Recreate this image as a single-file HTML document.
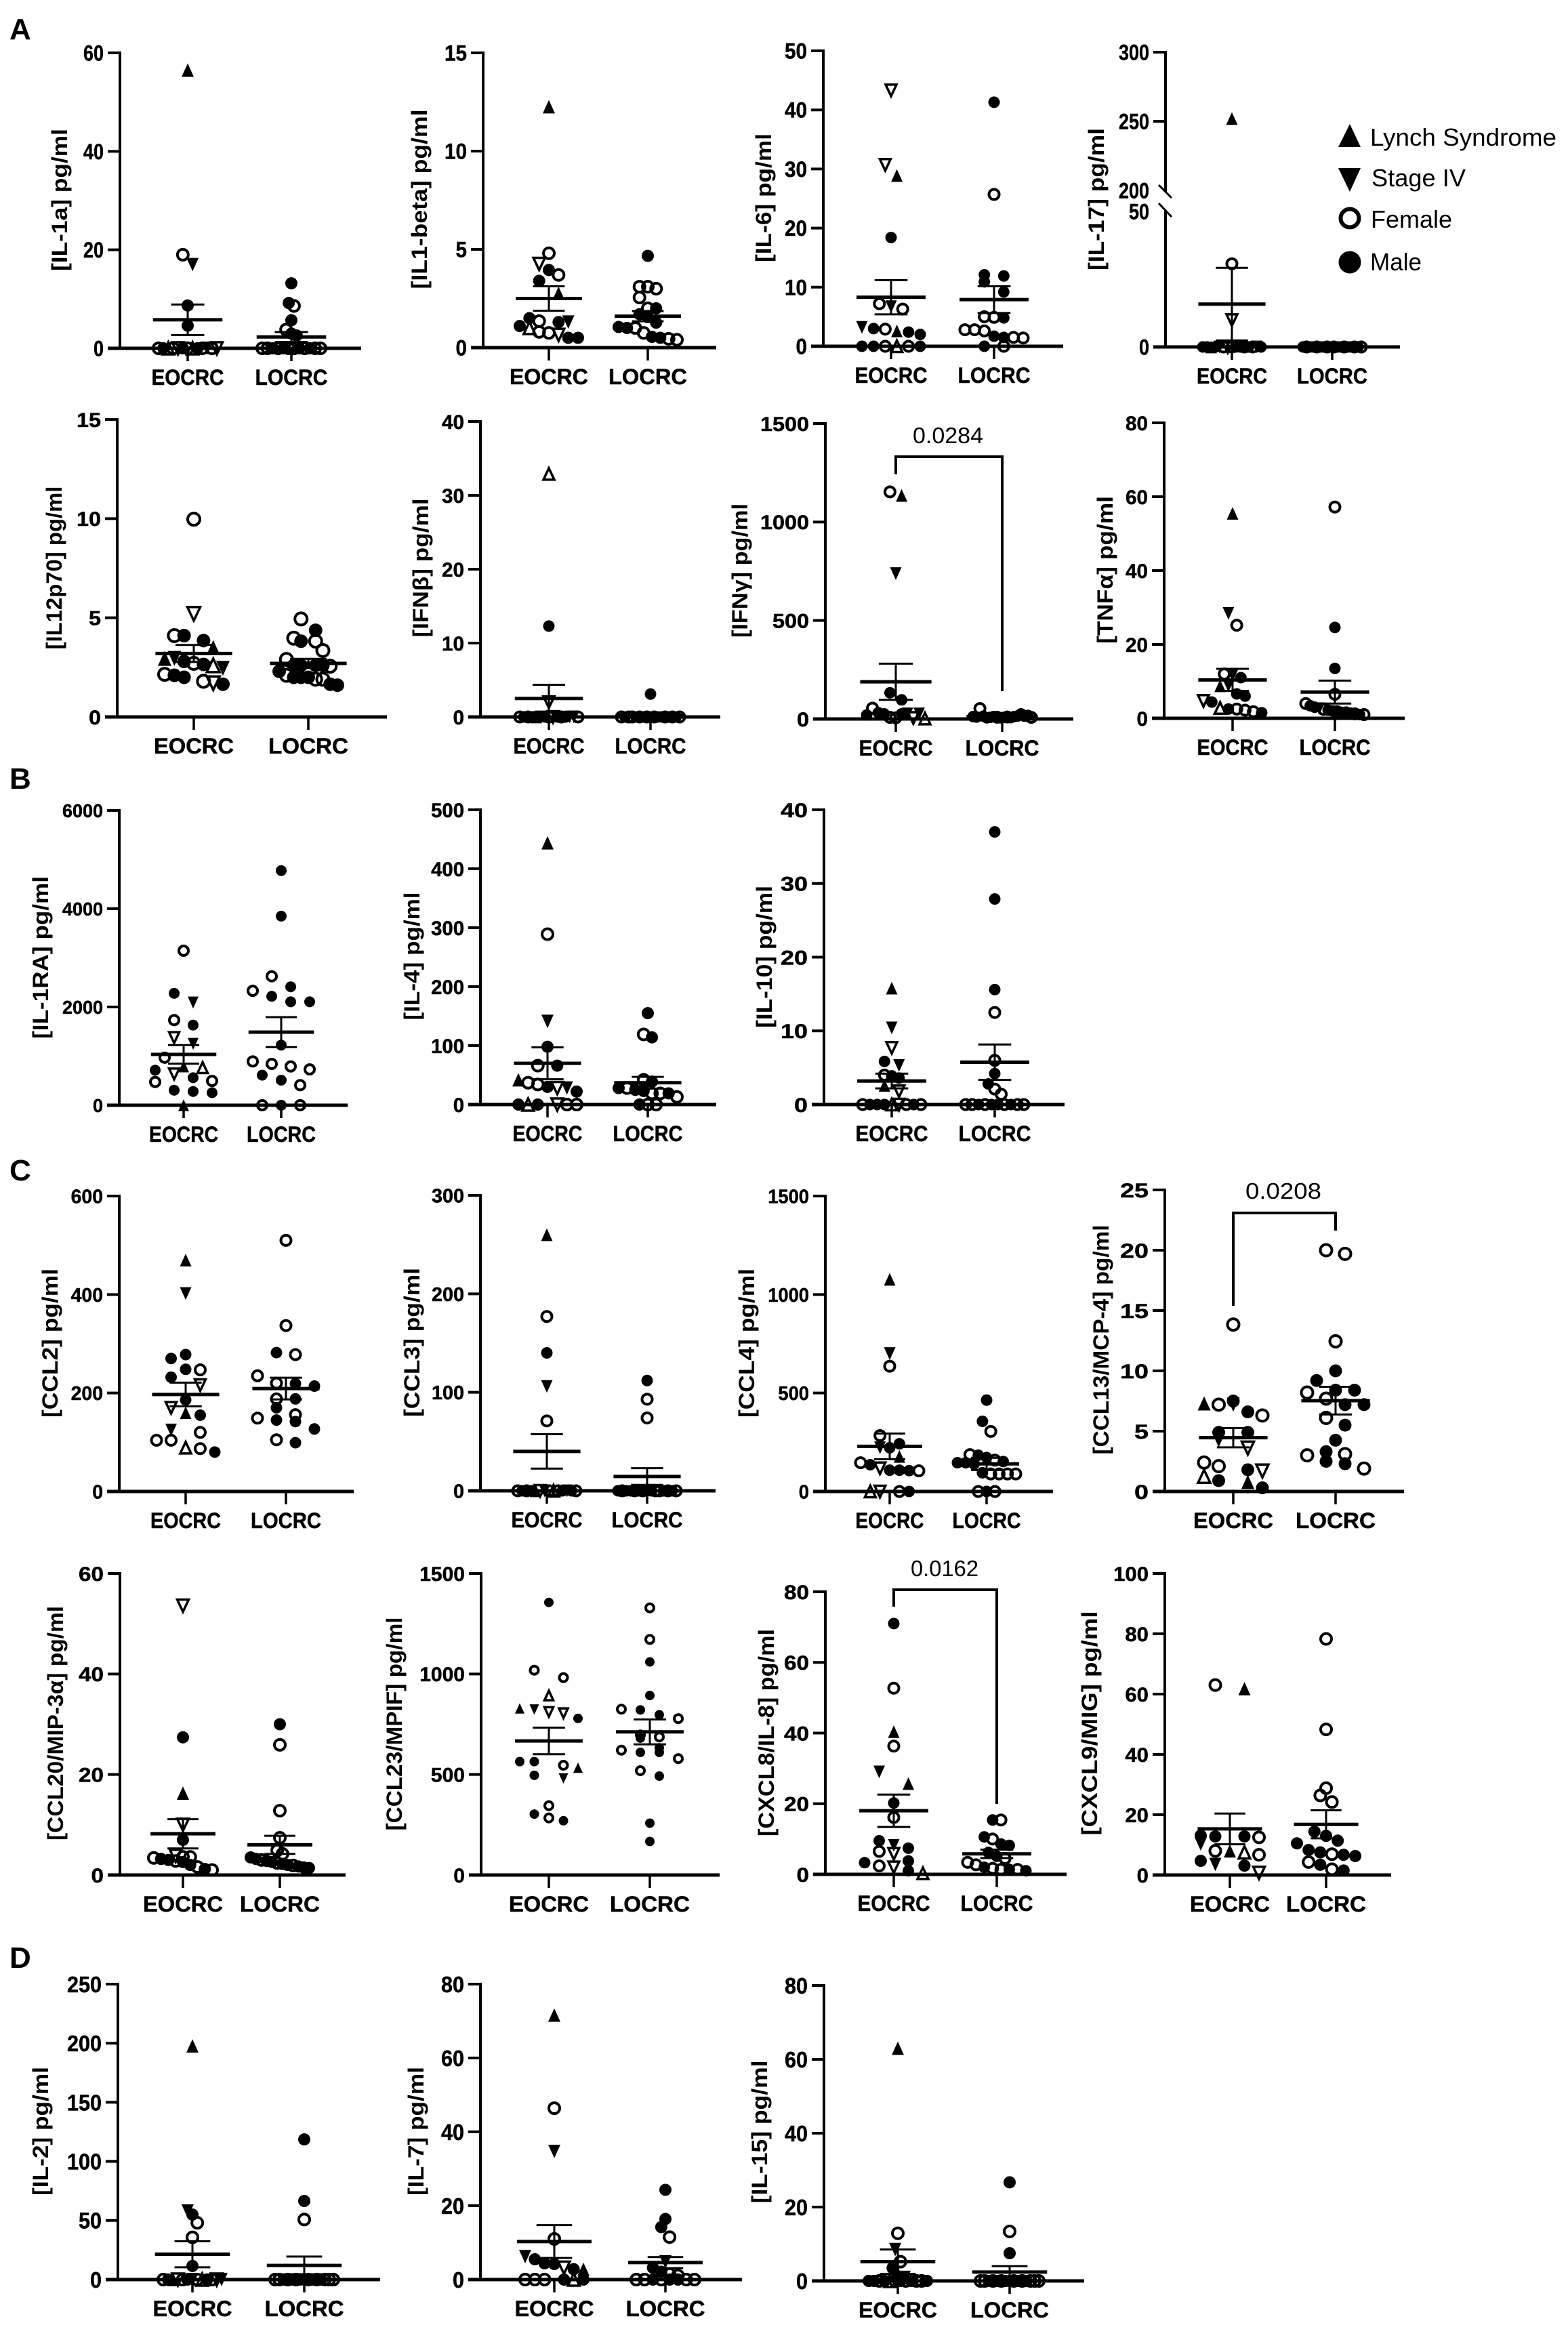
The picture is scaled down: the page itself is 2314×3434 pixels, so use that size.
<!DOCTYPE html>
<html lang="en">
<head>
<meta charset="utf-8">
<title>Cytokine concentrations in EOCRC and LOCRC</title>
<style>
  html, body { margin: 0; padding: 0; background: #fff; }
  svg { display: block; font-family: "Liberation Sans", sans-serif; }
  text { fill: #000; }
</style>
</head>
<body>
<svg id="figure" width="2314" height="3434" viewBox="0 0 2314 3434" xmlns="http://www.w3.org/2000/svg">
  <rect x="0" y="0" width="2314" height="3434" fill="#fff"/>
  <text x="14" y="58" font-size="44" font-weight="700">A</text>
  <text x="14" y="1164" font-size="44" font-weight="700">B</text>
  <text x="14" y="1742" font-size="44" font-weight="700">C</text>
  <text x="14" y="2904" font-size="44" font-weight="700">D</text>
  <g>
    <g>
      <polygon points="1992,183 2008,217 1975,217" fill="#000"/>
      <text x="2022" y="215" font-size="36" textLength="275" lengthAdjust="spacingAndGlyphs">Lynch Syndrome</text>
    </g>
    <g>
      <polygon points="1975,248 2008,248 1992,283" fill="#000"/>
      <text x="2024" y="275" font-size="36" textLength="139" lengthAdjust="spacingAndGlyphs">Stage IV</text>
    </g>
    <g>
      <circle cx="1992" cy="322" r="13.5" fill="none" stroke="#000" stroke-width="6"/>
      <text x="2023" y="336" font-size="36" textLength="120" lengthAdjust="spacingAndGlyphs">Female</text>
    </g>
    <g>
      <circle cx="1992" cy="387" r="16.5" fill="#000"/>
      <text x="2022" y="399" font-size="36" textLength="76" lengthAdjust="spacingAndGlyphs">Male</text>
    </g>
  </g>
</svg>
<script>
const categories = ['EOCRC', 'LOCRC'];

/* Kinds: L lynch, l lynch female, S stage IV, s stage IV female, F female, M male */
const il1aTicks = [0, 20, 40, 60];
const il1aEoValues = [56.5, 19, 17, 8.7, 4.6, 0, 0, 0, 0, 0, 0, 0, 0, 0, 0, 0, 0, 0];
const il1aEoKinds = 'LFSMMFMlFsMFlMFSFs';
const il1aLoValues = [13.2, 9.2, 8.6, 5.7, 3.8, 3, 2.6, 0, 0, 0, 0, 0, 0, 0, 0, 0, 0, 0, 0];
const il1aLoKinds = 'MMFMFMMFFMFMFFMFMFF';
const il1aMeans = [5.8, 2.3];
const il1aSems = [3.1, 1];

const il1bTicks = [0, 5, 10, 15];
const il1bEoValues = [12.26, 4.8, 4.26, 3.95, 3.7, 3.4, 2.77, 1.5, 1.35, 1.3, 1.3, 1.1, 1, 0.8, 0.75, 0.65, 0.5, 0.5];
const il1bEoKinds = 'LFsMFMLMFMSMlFFsMM';
const il1bLoValues = [4.67, 3.1, 3.1, 3, 2.55, 2, 2, 1.7, 1.55, 1.27, 1.05, 1, 1, 0.75, 0.55, 0.5, 0.45, 0.4];
const il1bLoKinds = 'MFFFFFMMMMMMFFMMFF';
const il1bMeans = [2.5, 1.6];
const il1bSems = [0.62, 0.26];

const il6Ticks = [0, 10, 20, 30, 40, 50];
const il6EoValues = [43.3, 30.7, 28.9, 18.4, 7.2, 6.7, 6.3, 3.2, 3, 2.9, 2.6, 2.4, 2, 0, 0, 0, 0, 0, 0];
const il6EoKinds = 'ssLMFSFSMFLMMMMFlFM';
const il6LoValues = [41.3, 25.7, 12.1, 11.9, 10.9, 9.2, 5, 4.9, 4.8, 2.8, 2.8, 2.6, 1.7, 1.5, 1.5, 1.4, 0, 0];
const il6LoKinds = 'MFMMMMFFMFFFMMFFMF';
const il6Means = [8.3, 7.9];
const il6Sems = [2.9, 2.27];

const il17Ticks = [0, 50, 200, 250, 300];
const il17EoValues = [252, 30.7, 9.9, 0, 0, 0, 0, 0, 0, 0, 0, 0, 0, 0, 0, 0, 0, 0];
const il17EoKinds = 'LFsMMLMSFsFMMFMFSM';
const il17LoValues = [0, 0, 0, 0, 0, 0, 0, 0, 0, 0, 0, 0, 0, 0, 0, 0, 0, 0];
const il17LoKinds = 'MFMMFMMFMFMMFMMFMF';
const il17Means = [15.8, 0.2];
const il17Sems = [13.4, 0.1];

const il12Ticks = [0, 5, 10, 15];
const il12EoValues = [9.97, 5.2, 4.1, 4.1, 3.85, 3.5, 2.95, 2.95, 2.8, 2.7, 2.65, 2.6, 2.45, 2.15, 2.1, 2, 1.8, 1.7, 1.65];
const il12EoKinds = 'FsFMMLLSMFMlSFMMFsM';
const il12LoValues = [4.94, 4.37, 3.97, 3.82, 3.82, 3.35, 2.9, 2.6, 2.6, 2.6, 2.6, 2.56, 2.3, 2.1, 2, 2, 2, 1.9, 1.9, 1.65, 1.6];
const il12LoKinds = 'FMFMFFFMMMMFMFMMMFFMM';
const il12Means = [3.2, 2.7];
const il12Sems = [0.43, 0.23];

const ifnbTicks = [0, 10, 20, 30, 40];
const ifnbEoValues = [32.9, 12.3, 2, 0, 0, 0, 0, 0, 0, 0, 0, 0, 0, 0, 0, 0, 0, 0];
const ifnbEoKinds = 'lMsFMFMLSMFsMFMSSF';
const ifnbLoValues = [3.1, 0, 0, 0, 0, 0, 0, 0, 0, 0, 0, 0, 0, 0, 0, 0, 0, 0];
const ifnbLoKinds = 'MFMFFMFMFMFMMFMFMF';
const ifnbMeans = [2.5, 0.2];
const ifnbSems = [1.85, 0.15];

const ifngTicks = [0, 500, 1000, 1500];
const ifngEoValues = [1153, 1135, 738, 133, 97, 20, 55, 32, 26, 8, 6, 26, 26, 5, 26, 2];
const ifngEoKinds = 'FLSMMMFMMFFMSsSl';
const ifngLoValues = [12, 10, 53, 14, 6, 8, 12, 9, 6, 8, 10, 7, 12, 15, 26, 14, 18, 8];
const ifngLoKinds = 'MMFMMMMFMMFMMMMMMF';
const ifngMeans = [189, 12];
const ifngSems = [92, 3];

const tnfaTicks = [0, 20, 40, 60, 80];
const tnfaEoValues = [55.5, 28.4, 25.2, 12, 11.6, 11, 8.8, 8.8, 6.6, 6, 4.7, 4.4, 2.8, 2.5, 2.5, 2.2, 1.8, 1.5];
const tnfaEoKinds = 'LSFFSMLSMMsMlMFFFM';
const tnfaLoValues = [57.2, 24.6, 13.5, 6.5, 4, 3.4, 3, 2.6, 2.4, 2.2, 2, 1.8, 1.6, 1.5, 1.4, 1.2, 1, 1];
const tnfaLoKinds = 'FMMFFMMSFMMFMFMFMF';
const tnfaMeans = [10.4, 7.1];
const tnfaSems = [3, 3.1];

const il1raTicks = [0, 2000, 4000, 6000];
const il1raEoValues = [3145, 2278, 2090, 1733, 1631, 1376, 1250, 968, 790, 765, 713, 637, 560, 495, 474, 306, 280, 255, 0];
const il1raEoKinds = 'FMSFMsSFLlMsMFFMMML';
const il1raLoValues = [4776, 3848, 2625, 2410, 2330, 2217, 2105, 2105, 1223, 892, 841, 790, 729, 612, 510, 408, 0, 0, 0];
const il1raLoKinds = 'MMFMFMMMMFFFFMMFFMF';
const il1raMeans = [1035, 1488];
const il1raSems = [190, 305];

const il4Ticks = [0, 100, 200, 300, 400, 500];
const il4EoValues = [444, 289, 141, 98, 66, 66, 42, 37, 34, 30, 28, 28, 22, 0, 0, 0, 0, 0, 0];
const il4EoKinds = 'LFSMFMLFFMsSMMlMsFF';
const il4LoValues = [155, 119, 114, 42, 39, 28, 28, 25, 23, 19, 19, 19, 13, 0, 0, 0];
const il4LoKinds = 'MFMFMMFMMFFMFMFF';
const il4Means = [70, 37];
const il4Sems = [27, 10];

const il10Ticks = [0, 10, 20, 30, 40];
const il10EoValues = [15.8, 10.4, 7.7, 5.85, 5.3, 4, 3.9, 3.6, 2.6, 1.8, 0, 0, 0, 0, 0, 0, 0, 0, 0];
const il10EoKinds = 'LSsMSFMMLsFMMMlsFMF';
const il10LoValues = [37, 27.9, 15.6, 12.5, 6, 4.2, 2.8, 2.1, 1.4, 0, 0, 0, 0, 0, 0, 0, 0, 0, 0];
const il10LoKinds = 'MMMFFMMFFFFMFMMFMFF';
const il10Means = [3.2, 5.75];
const il10Sems = [1, 2.4];

const ccl2Ticks = [0, 200, 400, 600];
const ccl2EoValues = [470, 402, 278, 270, 248, 247, 232, 216, 186, 170, 160, 155, 125, 120, 104, 104, 89, 87, 80];
const ccl2EoKinds = 'LSMMMFMsMsLMSFFFlFM';
const ccl2LoValues = [510, 337, 282, 278, 235, 220, 219, 214, 188, 188, 170, 156, 149, 145, 142, 127, 105, 99];
const ccl2LoKinds = 'FFMFFFMMFMMFFMMMFM';
const ccl2Means = [197, 209];
const ccl2Sems = [24, 22];

const ccl3Ticks = [0, 100, 200, 300];
const ccl3EoValues = [260, 177, 140, 106, 71, 0, 0, 0, 0, 0, 0, 0, 0, 0, 0, 0, 0, 0, 0];
const ccl3EoKinds = 'LFMSFFMFMLsSFlFMSMF';
const ccl3LoValues = [112, 93, 74, 0, 0, 0, 0, 0, 0, 0, 0, 0, 0, 0, 0, 0, 0, 0];
const ccl3LoKinds = 'MFFMFMMFMFMMFFMFMF';
const ccl3Means = [40, 14.5];
const ccl3Sems = [17.5, 8.5];

const ccl4Ticks = [0, 500, 1000, 1500];
const ccl4EoValues = [1077, 700, 636, 284, 242, 222, 222, 178, 146, 136, 118, 108, 108, 106, 105, 0, 0, 0, 0];
const ccl4EoKinds = 'LSFFMSMLFMsMMMFlsFM';
const ccl4LoValues = [464, 356, 305, 187, 184, 172, 159, 152, 146, 146, 140, 95, 89, 89, 89, 89, 0, 0, 0];
const ccl4LoKinds = 'MMFFMMFMMMMMFFFFFMF';
const ccl4Means = [229, 140];
const ccl4Sems = [65, 31];

const ccl13Ticks = [0, 5, 10, 15, 20, 25];
const ccl13EoValues = [13.84, 7.5, 7.3, 7.2, 7.2, 6.6, 6.3, 4.9, 4.9, 4.25, 3.6, 2.4, 2.1, 1.8, 1.7, 1.25, 0.9, 0.8, 0.3];
const ccl13EoKinds = 'FMLFSMFMMSsFFMslMLM';
const ccl13LoValues = [20, 19.7, 12.45, 10, 9.2, 8.4, 8.4, 8.2, 7.7, 7.2, 7.2, 6.1, 5.5, 4.25, 3.3, 3.1, 3, 2.5, 2.3, 1.9];
const ccl13LoKinds = 'FFFMMMMFFMMFMMMFFMMF';
const ccl13Means = [4.46, 7.53];
const ccl13Sems = [0.8, 1.15];

const ccl20Ticks = [0, 20, 40, 60];
const ccl20EoValues = [53.6, 27.4, 16.3, 10, 7, 3.8, 3.6, 3.6, 3.4, 3.2, 3, 2.8, 2.6, 2, 1.6, 1.2, 1];
const ccl20EoKinds = 'sMLsMsFFFMMFMMFMF';
const ccl20LoValues = [30, 25.9, 12.8, 7.4, 4.9, 4.2, 3.5, 3.2, 3, 2.8, 2.6, 2.4, 2.2, 2, 1.9, 1.7, 1.5, 1.4];
const ccl20LoKinds = 'MFFFFFMMFMMFMMFMMM';
const ccl20Means = [8.2, 6];
const ccl20Sems = [2.9, 1.8];

const ccl23Ticks = [0, 500, 1000, 1500];
const ccl23EoValues = [1356, 1019, 982, 893, 829, 823, 811, 805, 779, 564, 564, 546, 534, 496, 480, 345, 303, 284, 270];
const ccl23EoKinds = 'MFFlLSssMMMFLMSFMFM';
const ccl23LoValues = [1329, 1172, 1060, 893, 825, 821, 797, 778, 697, 687, 681, 633, 621, 610, 610, 579, 519, 492, 258, 167];
const ccl23LoKinds = 'FFMMFMMFFFMMFMMFFMMM';
const ccl23Means = [667, 712];
const ccl23Sems = [66, 62];

const cxcl8Ticks = [0, 20, 40, 60, 80];
const cxcl8EoValues = [71, 52.7, 40.4, 36.3, 29, 25.7, 20.2, 16.1, 9.5, 8.2, 7.4, 6.5, 5.8, 3.8, 3.3, 2.4, 2, 1, 0.3];
const cxcl8EoKinds = 'MFLFSLMFMSMFsMMFsMl';
const cxcl8LoValues = [15.4, 15.4, 10.6, 10, 8.6, 8.2, 6.2, 5.1, 4.5, 3.4, 2.7, 2, 1.7, 1.4, 1.4, 1.4, 1];
const cxcl8LoKinds = 'MFMFMMMMFFFMFFMFM';
const cxcl8Means = [18, 5.8];
const cxcl8Sems = [4.6, 1.2];

const cxcl9Ticks = [0, 20, 40, 60, 80, 100];
const cxcl9EoValues = [63, 61.8, 13.1, 12.8, 12.8, 12.5, 10.3, 8, 8, 7.5, 6.7, 4.7, 3.5, 3.1, 0.7];
const cxcl9EoKinds = 'FLMMMFSFLlFMSMs';
const cxcl9LoValues = [78.3, 48.3, 28.8, 26.4, 24.2, 14.4, 13, 11.4, 10.5, 8.3, 7.5, 6.9, 6.7, 6.3, 4.3, 3.4, 1.9, 1.5];
const cxcl9LoKinds = 'FFFFFMMMMMMFMMFMFM';
const cxcl9Means = [15.3, 16.8];
const cxcl9Sems = [5.1, 4.65];

const il2Ticks = [0, 50, 100, 150, 200, 250];
const il2EoValues = [197.7, 58, 55, 48, 35.7, 11.5, 0, 0, 0, 0, 0, 0, 0, 0, 0, 0, 0, 0, 0];
const il2EoKinds = 'LSMFFMFMLsFMSFlMFsS';
const il2LoValues = [118.6, 66.5, 50.8, 0, 0, 0, 0, 0, 0, 0, 0, 0, 0, 0, 0, 0, 0, 0];
const il2LoKinds = 'MMFFFMFMFMMFMFMFFF';
const il2Means = [21.4, 12];
const il2Sems = [11, 7.5];

const il7Ticks = [0, 20, 40, 60, 80];
const il7EoValues = [71.6, 46.4, 34.7, 11, 6.2, 5.5, 4.4, 4.2, 3.2, 2.8, 2.8, 0, 0, 0, 0, 0, 0];
const il7EoKinds = 'LFSFSMMMsMLFFFMlM';
const il7LoValues = [24.3, 16.4, 14.2, 11.5, 4.8, 3.2, 2.1, 1.5, 1.1, 0, 0, 0, 0, 0, 0, 0, 0];
const il7LoKinds = 'MMMFSMMFFFFMFMMFF';
const il7Means = [10.3, 4.6];
const il7Sems = [4.45, 1.5];

const il15Ticks = [0, 20, 40, 60, 80];
const il15EoValues = [63, 12.9, 8.5, 5.2, 3.5, 2.1, 0.8, 0, 0, 0, 0, 0, 0, 0, 0, 0, 0, 0, 0];
const il15EoKinds = 'LFSFMLsMMFMlFMFMFFM';
const il15LoValues = [26.7, 13.4, 7.5, 0, 0, 0, 0, 0, 0, 0, 0, 0, 0, 0, 0, 0, 0, 0];
const il15LoKinds = 'MFMFFMFMFMMFMFMFFF';
const il15Means = [5.2, 2.4];
const il15Sems = [3.3, 1.6];

const panels = [
  { id: 'il-1a', title: '[IL-1a] pg/ml', tx: 89, tc: 295, tl: 210, ax: 177, top: 78, y0: 514, xs: [277, 430], end: 533, d: 18, dw: 15, fs: 32, xw: 107, ticks: il1aTicks, vals: [il1aEoValues, il1aLoValues], kinds: [il1aEoKinds, il1aLoKinds], means: il1aMeans, sems: il1aSems },
  { id: 'il-1-beta', title: '[IL1-beta] pg/ml', tx: 620, tc: 294, tl: 265, ax: 713, top: 78, y0: 513, xs: [810, 956], end: 1057, d: 18, dw: 16.5, fs: 32, xw: 116, ticks: il1bTicks, vals: [il1bEoValues, il1bLoValues], kinds: [il1bEoKinds, il1bLoKinds], means: il1bMeans, sems: il1bSems },
  { id: 'il-6', title: '[IL-6] pg/ml', tx: 1128, tc: 292, tl: 190, ax: 1215, top: 75, y0: 511, xs: [1315, 1467], end: 1569, d: 17, dw: 16.5, fs: 32, xw: 107, ticks: il6Ticks, vals: [il6EoValues, il6LoValues], kinds: [il6EoKinds, il6LoKinds], means: il6Means, sems: il6Sems },
  { id: 'il-17', title: '[IL-17] pg/ml', tx: 1619, tc: 294, tl: 210, ax: 1720, top: 77, y0: 512, xs: [1818, 1966], end: 2066, d: 17, dw: 15, fs: 32, xw: 104, ticks: il17Ticks, vals: [il17EoValues, il17LoValues], kinds: [il17EoKinds, il17LoKinds], means: il17Means, sems: il17Sems, broken: true },
  { id: 'il-12p70', title: '[IL12p70] pg/ml', tx: 81, tc: 838, tl: 241, ax: 173, top: 619, y0: 1058, xs: [286, 455], end: 571, d: 20, dw: 18, fs: 30, xw: 118, ticks: il12Ticks, vals: [il12EoValues, il12LoValues], kinds: [il12EoKinds, il12LoKinds], means: il12Means, sems: il12Sems },
  { id: 'ifn-beta', title: '[IFNβ] pg/ml', tx: 622, tc: 838, tl: 205, ax: 709, top: 622, y0: 1058, xs: [810, 960], end: 1063, d: 17, dw: 16.5, fs: 30, xw: 105, ticks: ifnbTicks, vals: [ifnbEoValues, ifnbLoValues], kinds: [ifnbEoKinds, ifnbLoKinds], means: ifnbMeans, sems: ifnbSems },
  { id: 'ifn-gamma', title: '[IFNγ] pg/ml', tx: 1093, tc: 842, tl: 198, ax: 1218, top: 625, y0: 1061, xs: [1322, 1479], end: 1584, d: 17, dw: 18, fs: 30, xw: 109, ticks: ifngTicks, vals: [ifngEoValues, ifngLoValues], kinds: [ifngEoKinds, ifngLoKinds], means: ifngMeans, sems: ifngSems, bracket: { label: '0.0284', top: 674, left: 700, right: 1020, tx: 1399, ty: 642, tw: 104 } },
  { id: 'tnf-alpha', title: '[TNFα] pg/ml', tx: 1632, tc: 841, tl: 218, ax: 1718, top: 624, y0: 1060, xs: [1819, 1970], end: 2073, d: 17, dw: 16.5, fs: 30, xw: 105, ticks: tnfaTicks, vals: [tnfaEoValues, tnfaLoValues], kinds: [tnfaEoKinds, tnfaLoKinds], means: tnfaMeans, sems: tnfaSems },
  { id: 'il-1ra', title: '[IL-1RA] pg/ml', tx: 61, tc: 1413, tl: 240, ax: 176, top: 1196, y0: 1631, xs: [271, 415], end: 513, d: 16, dw: 15, fs: 28, xw: 102, ticks: il1raTicks, vals: [il1raEoValues, il1raLoValues], kinds: [il1raEoKinds, il1raLoKinds], means: il1raMeans, sems: il1raSems },
  { id: 'il-4', title: '[IL-4] pg/ml', tx: 609, tc: 1411, tl: 189, ax: 709, top: 1195, y0: 1630, xs: [808, 956], end: 1057, d: 18, dw: 16.3, fs: 30, xw: 103, ticks: il4Ticks, vals: [il4EoValues, il4LoValues], kinds: [il4EoKinds, il4LoKinds], means: il4Means, sems: il4Sems },
  { id: 'il-10', title: '[IL-10] pg/ml', tx: 1129, tc: 1412, tl: 210, ax: 1216, top: 1195, y0: 1630, xs: [1316, 1468], end: 1571, d: 17, dw: 20, fs: 30, xw: 107, ticks: il10Ticks, vals: [il10EoValues, il10LoValues], kinds: [il10EoKinds, il10LoKinds], means: il10Means, sems: il10Sems },
  { id: 'ccl2', title: '[CCL2] pg/ml', tx: 75, tc: 1982, tl: 220, ax: 176, top: 1765, y0: 2201, xs: [274, 422], end: 522, d: 17, dw: 15.8, fs: 29, xw: 104, ticks: ccl2Ticks, vals: [ccl2EoValues, ccl2LoValues], kinds: [ccl2EoKinds, ccl2LoKinds], means: ccl2Means, sems: ccl2Sems },
  { id: 'ccl3', title: '[CCL3] pg/ml', tx: 609, tc: 1981, tl: 220, ax: 709, top: 1764, y0: 2200, xs: [807, 955], end: 1056, d: 17, dw: 16, fs: 29, xw: 105, ticks: ccl3Ticks, vals: [ccl3EoValues, ccl3LoValues], kinds: [ccl3EoKinds, ccl3LoKinds], means: ccl3Means, sems: ccl3Sems },
  { id: 'ccl4', title: '[CCL4] pg/ml', tx: 1103, tc: 1982, tl: 220, ax: 1218, top: 1765, y0: 2201, xs: [1313, 1456], end: 1554, d: 17, dw: 15.2, fs: 29, xw: 101, ticks: ccl4Ticks, vals: [ccl4EoValues, ccl4LoValues], kinds: [ccl4EoKinds, ccl4LoKinds], means: ccl4Means, sems: ccl4Sems },
  { id: 'ccl13', title: '[CCL13/MCP-4] pg/ml', tx: 1626, tc: 1977, tl: 339, ax: 1719, top: 1756, y0: 2201, xs: [1820, 1971], end: 2072, d: 19, dw: 21, fs: 30, xw: 118, ticks: ccl13Ticks, vals: [ccl13EoValues, ccl13LoValues], kinds: [ccl13EoKinds, ccl13LoKinds], means: ccl13Means, sems: ccl13Sems, bracket: { label: '0.0208', top: 1790, left: 1927, right: 1816, tx: 1894, ty: 1757, tw: 112 } },
  { id: 'ccl20', title: '[CCL20/MIP-3α] pg/ml', tx: 83, tc: 2543, tl: 346, ax: 177, top: 2322, y0: 2767, xs: [270, 413], end: 510, d: 18, dw: 18.5, fs: 30, xw: 118, ticks: ccl20Ticks, vals: [ccl20EoValues, ccl20LoValues], kinds: [ccl20EoKinds, ccl20LoKinds], means: ccl20Means, sems: ccl20Sems },
  { id: 'ccl23', title: '[CCL23/MPIF] pg/ml', tx: 583, tc: 2544, tl: 315, ax: 710, top: 2322, y0: 2767, xs: [810, 959], end: 1062, d: 14, dw: 16.7, fs: 30, xw: 118, ticks: ccl23Ticks, vals: [ccl23EoValues, ccl23LoValues], kinds: [ccl23EoKinds, ccl23LoKinds], means: ccl23Means, sems: ccl23Sems },
  { id: 'cxcl8', title: '[CXCL8/IL-8] pg/ml', tx: 1132, tc: 2557, tl: 306, ax: 1218, top: 2349, y0: 2766, xs: [1319, 1471], end: 1574, d: 17, dw: 18.5, fs: 30, xw: 107, ticks: cxcl8Ticks, vals: [cxcl8EoValues, cxcl8LoValues], kinds: [cxcl8EoKinds, cxcl8LoKinds], means: cxcl8Means, sems: cxcl8Sems, bracket: { label: '0.0162', top: 2346, left: 2371, right: 2662, tx: 1394, ty: 2314, tw: 100 } },
  { id: 'cxcl9', title: '[CXCL9/MIG] pg/ml', tx: 1609, tc: 2543, tl: 331, ax: 1719, top: 2322, y0: 2767, xs: [1815, 1957], end: 2053, d: 18, dw: 17.3, fs: 30, xw: 118, ticks: cxcl9Ticks, vals: [cxcl9EoValues, cxcl9LoValues], kinds: [cxcl9EoKinds, cxcl9LoKinds], means: cxcl9Means, sems: cxcl9Sems },
  { id: 'il-2', title: '[IL-2] pg/ml', tx: 61, tc: 3145, tl: 190, ax: 174, top: 2928, y0: 3364, xs: [284, 449], end: 561, d: 18, dw: 17, fs: 33, xw: 117, ticks: il2Ticks, vals: [il2EoValues, il2LoValues], kinds: [il2EoKinds, il2LoKinds], means: il2Means, sems: il2Sems },
  { id: 'il-7', title: '[IL-7] pg/ml', tx: 615, tc: 3145, tl: 190, ax: 709, top: 2928, y0: 3364, xs: [818, 982], end: 1095, d: 18, dw: 17, fs: 33, xw: 117, ticks: il7Ticks, vals: [il7EoValues, il7LoValues], kinds: [il7EoKinds, il7LoKinds], means: il7Means, sems: il7Sems },
  { id: 'il-15', title: '[IL-15] pg/ml', tx: 1122, tc: 3146, tl: 211, ax: 1216, top: 2930, y0: 3366, xs: [1325, 1490], end: 1600, d: 18, dw: 17, fs: 33, xw: 116, ticks: il15Ticks, vals: [il15EoValues, il15LoValues], kinds: [il15EoKinds, il15LoKinds], means: il15Means, sems: il15Sems }
];

const root = document.getElementById('figure');
const NS = root.namespaceURI;

function make(tag, attrs, parent) {
  const node = document.createElementNS(NS, tag);
  for (const key in attrs) node.setAttribute(key, attrs[key]);
  parent.appendChild(node);
  return node;
}

function makeYScale(p) {
  const max = p.ticks[p.ticks.length - 1];
  if (p.broken) {
    const upperUnit = 102 / 50;
    const lowerUnit = 4;
    return function (v) {
      if (v >= 125) return 281 - (v - 200) * upperUnit;
      return p.y0 - v * lowerUnit;
    };
  }
  return function (v) {
    return p.y0 - (v / max) * (p.y0 - p.top);
  };
}

/* Prism-style swarm: points are binned by height, and every bin of a group
   sits on a shared column grid whose pitch comes from the largest bin. */
function swarmOffsets(values, y, binHeight) {
  const order = values.map(function (v, i) { return i; })
    .sort(function (a, b) { return values[a] - values[b] || a - b; });
  const bins = [];
  let current = null;
  order.forEach(function (i) {
    const isZero = values[i] === 0;
    if (!current || current.zero !== isZero || y(values[current.start]) - y(values[i]) > binHeight) {
      current = { start: i, zero: isZero, members: [] };
      bins.push(current);
    }
    current.members.push(i);
  });
  const largest = bins.reduce(function (m, bin) { return Math.max(m, bin.members.length); }, 1);
  const pitch = largest > 1 ? Math.min(28, 86 / (largest - 1)) : 0;
  const offsets = values.map(function () { return 0; });
  bins.forEach(function (bin) {
    const members = bin.members.slice().sort(function (a, b) { return a - b; });
    const n = members.length;
    const skipCentre = n % 2 === 0 && largest % 2 === 1;
    members.forEach(function (index, position) {
      let column = position - (n - 1) / 2;
      if (skipCentre) column += column > 0 ? 0.5 : -0.5;
      offsets[index] = column * pitch;
    });
  });
  return offsets;
}

function drawMarker(parent, kind, cx, cy, d) {
  const h = d / 2;
  let marker;
  if (kind === 'M') {
    marker = make('circle', { cx: cx, cy: cy, r: h, fill: '#000' }, parent);
  } else if (kind === 'F') {
    marker = make('circle', { cx: cx, cy: cy, r: h - 1, fill: 'none', stroke: '#000', 'stroke-width': 4 }, parent);
  } else {
    const up = kind === 'L' || kind === 'l';
    const open = kind === 'l' || kind === 's';
    const hw = open ? h - 0.5 : h;
    const hh = open ? h : h * 1.1;
    const tip = up ? cy - hh : cy + hh;
    const base = up ? cy + hh : cy - hh;
    const points = cx + ',' + tip + ' ' + (cx - hw) + ',' + base + ' ' + (cx + hw) + ',' + base;
    marker = make('polygon', { points: points, fill: open ? 'none' : '#000', stroke: open ? '#000' : 'none', 'stroke-width': open ? 3.5 : 0 }, parent);
  }
  
  
}

function drawLine(parent, x1, y1, x2, y2, width) {
  return make('line', { x1: x1, y1: y1, x2: x2, y2: y2, stroke: '#000', 'stroke-width': width }, parent);
}

function drawPanel(p) {
  const group = make('g', {}, root);
  
  
  const y = makeYScale(p);
  const spread = p.xs[1] - p.xs[0];

  p.vals.forEach(function (values, g) {
    const series = make('g', {}, group);
    
    
    const offsets = swarmOffsets(values, y, p.d + 1);
    values.forEach(function (v, i) {
      drawMarker(series, p.kinds[g][i], p.xs[g] + offsets[i], y(v), p.d);
    });
  });

  p.means.forEach(function (mean, g) {
    const cx = p.xs[g];
    const hi = mean + p.sems[g];
    const lo = Math.max(0, mean - p.sems[g]);
    const stem = drawLine(group, cx, y(hi), cx, y(lo), 3);
    
    
    const capTop = drawLine(group, cx - spread * 0.16, y(hi), cx + spread * 0.16, y(hi), 3);
    
    
    const capLow = drawLine(group, cx - spread * 0.16, y(lo), cx + spread * 0.16, y(lo), 3);
    
    
    const meanLine = drawLine(group, cx - spread * 0.335, y(mean), cx + spread * 0.335, y(mean), 5);
    
    
  });

  if (p.broken) {
    const upperAxis = drawLine(group, p.ax, p.top - 2, p.ax, 283, 4);
    
    
    const lowerAxis = drawLine(group, p.ax, 310, p.ax, p.y0, 4);
    
    
    const breakTop = drawLine(group, p.ax - 10, 273, p.ax + 9, 292, 3);
    
    
    const breakLow = drawLine(group, p.ax - 10, 300, p.ax + 9, 320, 3);
    
    
  } else {
    const axis = drawLine(group, p.ax, p.top - 2, p.ax, p.y0, 4);
    
    
  }
  const baseline = drawLine(group, p.ax - 18, p.y0, p.end, p.y0, 5);
  
  

  p.ticks.forEach(function (t) {
    const ty = y(t);
    const skipMark = p.broken && (t === 50 || t === 200);
    if (!skipMark && t !== 0) {
      const mark = drawLine(group, p.ax - 18, ty, p.ax, ty, 4);
      
      
    }
    const label = String(t);
    const text = make('text', { x: p.ax - 24, y: ty + p.fs * 0.36, 'font-size': p.fs, 'font-weight': 700, stroke: '#000', 'stroke-width': 0.5, 'text-anchor': 'end', textLength: p.dw * label.length, lengthAdjust: 'spacingAndGlyphs' }, group);
    text.textContent = label;
    
    
  });

  categories.forEach(function (name, g) {
    const mark = drawLine(group, p.xs[g], p.y0, p.xs[g], p.y0 + 19, 3.5);
    
    
    const text = make('text', { x: p.xs[g], y: p.y0 + 54, 'font-size': 32, 'font-weight': 700, stroke: '#000', 'stroke-width': 0.5, 'text-anchor': 'middle', textLength: p.xw, lengthAdjust: 'spacingAndGlyphs' }, group);
    text.textContent = name;
    
    
  });

  const title = make('text', { transform: 'translate(' + (p.tx + 10) + ',' + p.tc + ') rotate(-90)', x: 0, y: 0, 'font-size': 32, 'font-weight': 700, 'text-anchor': 'middle', textLength: p.tl, lengthAdjust: 'spacingAndGlyphs' }, group);
  title.textContent = p.title;
  
  

  if (p.bracket) {
    const b = p.bracket;
    const path = make('path', { d: 'M' + p.xs[0] + ' ' + b.left + 'V' + b.top + 'H' + p.xs[1] + 'V' + b.right, fill: 'none', stroke: '#000', 'stroke-width': 4 }, group);
    
    
    const pText = make('text', { x: b.tx, y: b.ty + 12, 'font-size': 33, 'text-anchor': 'middle', textLength: b.tw, lengthAdjust: 'spacingAndGlyphs' }, group);
    pText.textContent = b.label;
    
    
  }
}

panels.forEach(drawPanel);
</script>
</body>
</html>
